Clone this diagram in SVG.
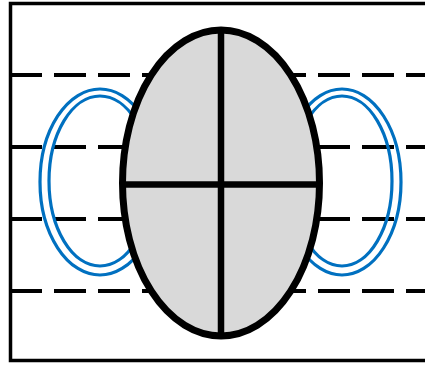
<svg xmlns="http://www.w3.org/2000/svg" width="425" height="366" viewBox="0 0 425 366">
<style>
.frame{fill:none;stroke:#000;stroke-width:3.5}
.dash{stroke:#000;stroke-width:4;stroke-dasharray:32 12;fill:none}
.blue{fill:none;stroke:#0070C0;stroke-width:3.2}
.body{fill:#d9d9d9;stroke:#000;stroke-width:7}
.axis{stroke:#000;stroke-width:6.5;fill:none}
</style>
<rect class="frame" x="10.5" y="3.5" width="430" height="357"/>
<g id="dashes">
<line class="dash" x1="10" y1="75" x2="425" y2="75"/>
<line class="dash" x1="10" y1="147" x2="425" y2="147"/>
<line class="dash" x1="10" y1="219" x2="425" y2="219"/>
<line class="dash" x1="10" y1="291" x2="425" y2="291"/>
</g>
<g id="left-loop">
<ellipse class="blue" cx="100" cy="182" rx="60" ry="93"/>
<ellipse class="blue" cx="100" cy="181" rx="51" ry="85"/>
</g>
<g id="right-loop">
<ellipse class="blue" cx="342" cy="182" rx="59" ry="93"/>
<ellipse class="blue" cx="342" cy="181" rx="50" ry="85"/>
</g>
<g id="body">
<ellipse class="body" cx="221" cy="183" rx="98.5" ry="153"/>
<line class="axis" x1="221" y1="30" x2="221" y2="336"/>
<line class="axis" x1="122.5" y1="184.5" x2="319.5" y2="184.5"/>
</g>
</svg>
